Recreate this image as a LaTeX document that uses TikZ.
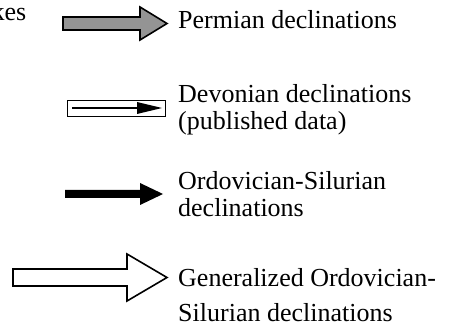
\documentclass[tikz,border=0pt]{standalone}
\usepackage{fontspec}
\setmainfont{Liberation Serif}
\begin{document}
\begin{tikzpicture}[
                x=1pt,y=-1pt,
                legOutline/.style={draw=black,line width=1.6pt,line join=miter},
                legGray/.style={legOutline,fill=black!42},
                legWhite/.style={legOutline,fill=white},
                legBlack/.style={fill=black},
                legText/.style={anchor=base west,inner sep=0pt,
                                font=\fontsize{26pt}{27pt}\selectfont}]
                \useasboundingbox (0,0) rectangle (457,328);
                % Permian
                \draw[legGray] (63,17) -- (140,17) -- (140,7) -- (167,23.5)
                    -- (140,40) -- (140,30) -- (63,30) -- cycle;
                % Devonian
                \draw[line width=0.9pt] (67,100) rectangle (165,116);
                \coordinate (dvA) at (72,108);
                \coordinate (dvB) at (137,108);
                \draw[line width=2.2pt] (dvA) -- (dvB);
                \fill (137,102) -- (162,108) -- (137,114) -- cycle;
                % Ordovician-Silurian
                \fill[legBlack] (65,190) -- (140,190) -- (140,183) -- (163,194)
                    -- (140,205) -- (140,198) -- (65,198) -- cycle;
                % generalized
                \draw[legWhite] (13,269) -- (127,269) -- (127,254) -- (167,277.5)
                    -- (127,301) -- (127,286) -- (13,286) -- cycle;
                \node[legText,anchor=base east] (kes) at (26.5,21) {kes};
                \node[legText] (perm) at (178,29) {Permian declinations};
                \node[legText] (dev1) at (178,103) {Devonian declinations};
                \node[legText] (dev2) at (178,130) {(published data)};
                \node[legText] (ord1) at (178,190) {Ordovician-Silurian};
                \node[legText] (ord2) at (178,217) {declinations};
                \node[legText] (gen1) at (178,287) {Generalized Ordovician-};
                \node[legText] (gen2) at (178,321) {Silurian declinations};
            \end{tikzpicture}
\end{document}
